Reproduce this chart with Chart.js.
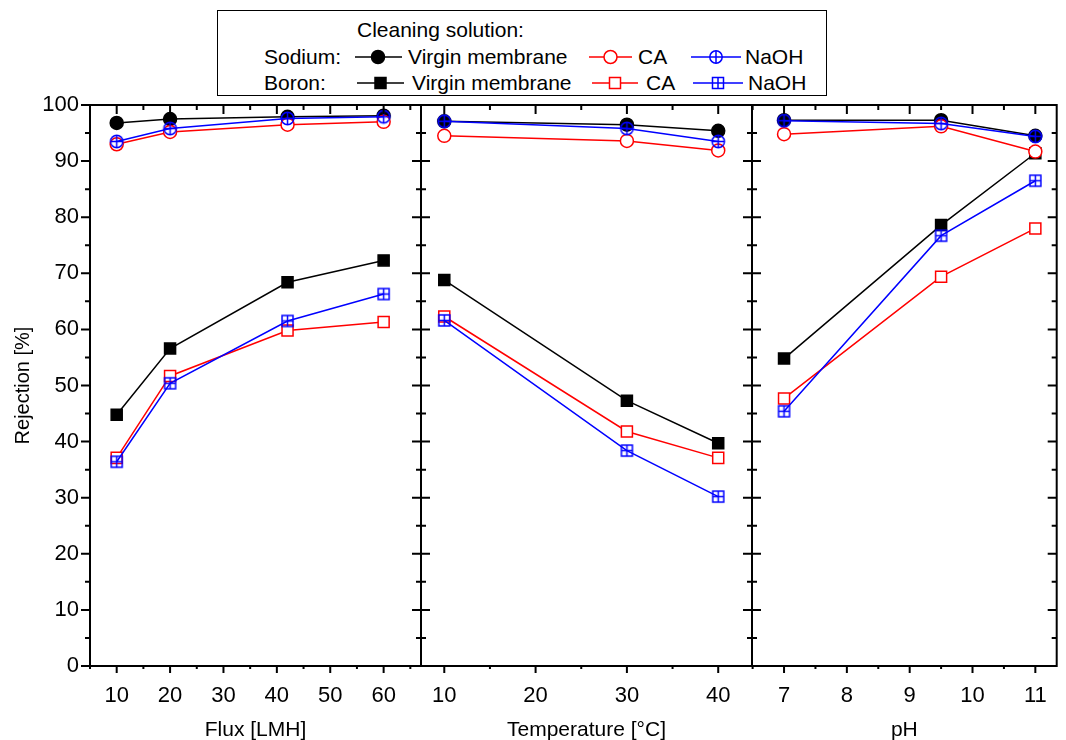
<!DOCTYPE html>
<html>
<head>
<meta charset="utf-8">
<script src="https://cdn.jsdelivr.net/npm/chart.js@4.4.0/dist/chart.umd.min.js"></script>
<style>
body { margin: 0; background: #fff; font-family: "Liberation Sans", Arial, sans-serif; }
#wrap { position: relative; width: 1066px; height: 740px; overflow: hidden; }
#wrap canvas { position: absolute; left: 0; top: 0; }
#legend { position: absolute; left: 217px; top: 10px; width: 608px; height: 84px; border: 1px solid #000; font-size: 21px; background: #fff; }
#legend span { position: absolute; line-height: 24px; white-space: nowrap; color: #000; }
#legend svg { position: absolute; left: 0; top: 0; }
</style>
</head>
<body>
<div id="wrap">
  <canvas id="c1" width="1066" height="740"></canvas>
  <canvas id="c2" width="1066" height="740"></canvas>
  <canvas id="c3" width="1066" height="740"></canvas>
  <div id="legend">
    <svg width="608" height="84">
      <g stroke-width="1.5" fill="none">
        <line x1="137" y1="46" x2="184" y2="46" stroke="#000"/>
        <circle cx="160" cy="46" r="6.5" fill="#000" stroke="#000"/>
        <line x1="371" y1="46" x2="414" y2="46" stroke="#f00"/>
        <circle cx="392.5" cy="46" r="6.5" fill="#fff" stroke="#f00"/>
        <line x1="473" y1="46" x2="523" y2="46" stroke="#00f"/>
        <circle cx="498" cy="46" r="6.2" stroke="#00f"/>
        <line x1="498" y1="39.8" x2="498" y2="52.2" stroke="#00f"/>
        <line x1="139" y1="72" x2="186" y2="72" stroke="#000"/>
        <rect x="157" y="66.5" width="11" height="11" fill="#000" stroke="#000"/>
        <line x1="374" y1="72" x2="420" y2="72" stroke="#f00"/>
        <rect x="391.5" y="66.5" width="11" height="11" fill="#fff" stroke="#f00"/>
        <line x1="475" y1="72" x2="525" y2="72" stroke="#00f"/>
        <rect x="494.5" y="66.5" width="11" height="11" stroke="#00f"/>
        <line x1="500" y1="66.5" x2="500" y2="77.5" stroke="#00f"/>
      </g>
    </svg>
    <span style="left:139px; top:7px">Cleaning solution:</span>
    <span style="left:46px; top:34px">Sodium:</span>
    <span style="left:190px; top:34px">Virgin membrane</span>
    <span style="left:420px; top:34px">CA</span>
    <span style="left:527px; top:34px">NaOH</span>
    <span style="left:46px; top:60px">Boron:</span>
    <span style="left:194px; top:60px">Virgin membrane</span>
    <span style="left:428px; top:60px">CA</span>
    <span style="left:530px; top:60px">NaOH</span>
  </div>
</div>
<script>
// x values of each panel
var fluxValues = [10, 20, 42, 60];
var tempValues = [10, 30, 40];
var phValues = [7, 9.5, 11];

// rejection [%] - flux panel
var naVirginFlux = [96.8, 97.5, 97.9, 98.1];
var naCAFlux = [93.0, 95.2, 96.5, 97.0];
var naNaOHFlux = [93.5, 95.8, 97.6, 97.9];
var bVirginFlux = [44.8, 56.6, 68.4, 72.3];
var bCAFlux = [37.1, 51.7, 59.8, 61.3];
var bNaOHFlux = [36.4, 50.4, 61.5, 66.3];

// rejection [%] - temperature panel
var naVirginTemp = [97.1, 96.5, 95.4];
var naCATemp = [94.5, 93.6, 91.9];
var naNaOHTemp = [97.1, 95.8, 93.5];
var bVirginTemp = [68.8, 47.3, 39.7];
var bCATemp = [62.3, 41.8, 37.1];
var bNaOHTemp = [61.6, 38.4, 30.2];

// rejection [%] - pH panel
var naVirginPH = [97.3, 97.3, 94.5];
var naCAPH = [94.8, 96.2, 91.7];
var naNaOHPH = [97.2, 96.7, 94.4];
var bVirginPH = [54.8, 78.6, 91.4];
var bCAPH = [47.7, 69.4, 78.0];
var bNaOHPH = [45.4, 76.7, 86.5];

// tick labels
var rejectionTicks = [0, 10, 20, 30, 40, 50, 60, 70, 80, 90, 100];
var fluxTicks = [10, 20, 30, 40, 50, 60];
var tempTicks = [10, 20, 30, 40];
var phTicks = [7, 8, 9, 10, 11];

Chart.defaults.font.family = '"Liberation Sans", Arial, sans-serif';
Chart.defaults.font.size = 20;
Chart.defaults.color = '#000';

function plusMarker(shape, color) {
    var c = document.createElement('canvas');
    c.width = 17; c.height = 17;
    var g = c.getContext('2d');
    g.strokeStyle = color;
    g.lineWidth = 1.5;
    g.beginPath();
    if (shape == 'circle') {
        g.arc(8.5, 8.5, 6.2, 0, Math.PI * 2);
        g.moveTo(8.5, 2.3); g.lineTo(8.5, 14.7);
        g.moveTo(2.3, 8.5); g.lineTo(14.7, 8.5);
    } else {
        g.rect(3, 3, 11, 11);
        g.moveTo(8.5, 3); g.lineTo(8.5, 14);
        g.moveTo(3, 8.5); g.lineTo(14, 8.5);
    }
    g.stroke();
    return c;
}
var circlePlus = plusMarker('circle', '#0000ff');
var squarePlus = plusMarker('square', '#0000ff');

function pts(xs, ys) {
    return xs.map(function(x, i) { return {x: x, y: ys[i]}; });
}

function series(label, xs, ys, color, style, fill, order) {
    var square = style == 'rect';
    return {
        label: label,
        data: pts(xs, ys),
        borderColor: color,
        borderWidth: 1.5,
        pointStyle: style,
        pointRadius: square ? 7.8 : 6.5,
        pointBorderColor: color,
        pointBackgroundColor: fill,
        pointBorderWidth: 1.5,
        order: order
    };
}

function datasets(xs, naV, naC, naN, bV, bC, bN) {
    return [
        series('Sodium NaOH', xs, naN, '#0000ff', circlePlus, 'rgba(0,0,0,0)', 0),
        series('Sodium CA', xs, naC, '#ff0000', 'circle', '#ffffff', 1),
        series('Sodium virgin', xs, naV, '#000000', 'circle', '#000000', 2),
        series('Boron NaOH', xs, bN, '#0000ff', squarePlus, 'rgba(0,0,0,0)', 3),
        series('Boron CA', xs, bC, '#ff0000', 'rect', '#ffffff', 4),
        series('Boron virgin', xs, bV, '#000000', 'rect', '#000000', 5)
    ];
}

// minor ticks halfway between the labelled ones
function minorTicks(major, min, max) {
    var out = [];
    var step = major[1] - major[0];
    var first = major[0] - step / 2;
    if (first >= min) out.push(first);
    for (var i = 0; i < major.length - 1; i++) out.push((major[i] + major[i + 1]) / 2);
    var last = major[major.length - 1] + step / 2;
    if (last <= max) out.push(last);
    return out;
}

var framePlugin = {
    id: 'frame',
    afterDatasetsDraw: function(chart, args, opts) {
        var a = chart.chartArea, ctx = chart.ctx;
        var xs = chart.scales.x, ys = chart.scales.y;
        var big = 9, small = 5;
        ctx.save();
        ctx.strokeStyle = '#000';
        ctx.lineWidth = 2;
        ctx.strokeRect(a.left, a.top, a.right - a.left, a.bottom - a.top);
        ctx.beginPath();
        var yMinor = minorTicks(rejectionTicks, 0, 100);
        function yTick(v, len) {
            var y = ys.getPixelForValue(v);
            if (opts.leftOut) { ctx.moveTo(a.left - len, y); ctx.lineTo(a.left, y); }
            else { ctx.moveTo(a.left, y); ctx.lineTo(a.left + len, y); }
            ctx.moveTo(a.right, y); ctx.lineTo(a.right - len, y);
        }
        rejectionTicks.forEach(function(v) { yTick(v, big); });
        yMinor.forEach(function(v) { yTick(v, small); });
        function xTick(v, len) {
            var x = xs.getPixelForValue(v);
            ctx.moveTo(x, a.bottom); ctx.lineTo(x, a.bottom + len - 2);
            ctx.moveTo(x, a.top); ctx.lineTo(x, a.top + len);
        }
        opts.xMajor.forEach(function(v) { xTick(v, big); });
        minorTicks(opts.xMajor, xs.min, xs.max).forEach(function(v) { xTick(v, small); });
        ctx.stroke();
        ctx.restore();
    }
};

function panel(id, xs, xMin, xMax, xTickVals, xTitle, padLeft, padRight, first, sets) {
    var yAxis = {
        min: 0, max: 100,
        display: first,
        afterBuildTicks: function(s) { s.ticks = rejectionTicks.map(function(v) { return {value: v}; }); },
        afterFit: function(s) { s.width = first ? 90 : 0; },
        grid: {display: false, drawTicks: false},
        border: {display: false},
        ticks: {padding: 11, font: {size: 22}},
        title: {display: true, text: 'Rejection [%]', font: {size: 20}, padding: {top: 11, bottom: 0}}
    };
    return new Chart(document.getElementById(id), {
        type: 'line',
        data: {datasets: sets},
        options: {
            responsive: false,
            animation: false,
            layout: {padding: {left: padLeft, right: padRight, top: 105, bottom: 0}},
            plugins: {
                legend: {display: false},
                tooltip: {enabled: false},
                frame: {leftOut: first, xMajor: xTickVals}
            },
            scales: {
                x: {
                    type: 'linear',
                    min: xMin, max: xMax,
                    afterBuildTicks: function(s) { s.ticks = xTickVals.map(function(v) { return {value: v}; }); },
                    afterFit: function(s) { s.height = 74; },
                    grid: {display: false, drawTicks: false},
                    border: {display: false},
                    ticks: {autoSkip: false, maxRotation: 0, padding: 17, font: {size: 22}},
                    title: {display: true, text: xTitle, font: {size: 21}, padding: {top: 0, bottom: -3}}
                },
                y: yAxis
            }
        },
        plugins: [framePlugin]
    });
}

panel('c1', fluxValues, 5, 67, fluxTicks, 'Flux [LMH]', 0, 645, true,
    datasets(fluxValues, naVirginFlux, naCAFlux, naNaOHFlux, bVirginFlux, bCAFlux, bNaOHFlux));
panel('c2', tempValues, 7.45, 43.7, tempTicks, 'Temperature [°C]', 421, 314, false,
    datasets(tempValues, naVirginTemp, naCATemp, naNaOHTemp, bVirginTemp, bCATemp, bNaOHTemp));
panel('c3', phValues, 6.49, 11.34, phTicks, 'pH', 752, 4, false,
    datasets(phValues, naVirginPH, naCAPH, naNaOHPH, bVirginPH, bCAPH, bNaOHPH));
</script>
</body>
</html>
